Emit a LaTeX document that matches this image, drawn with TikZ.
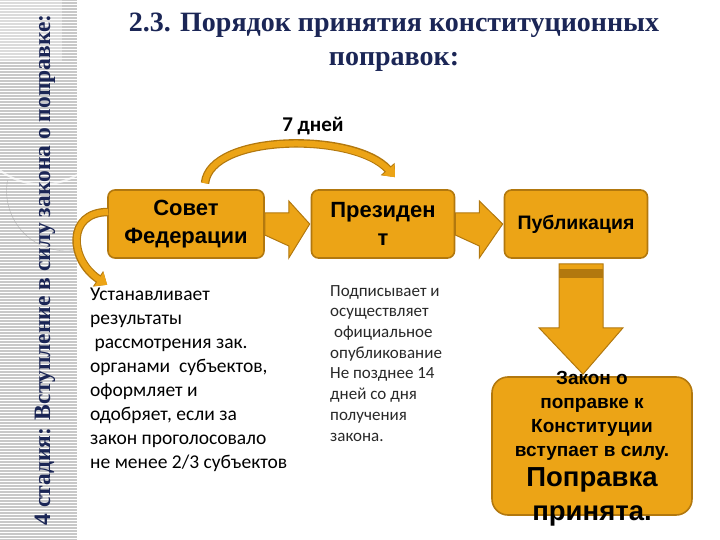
\documentclass[tikz,border=0pt]{standalone}
\usepackage{fontspec}
\setmainfont{Liberation Serif}
\newfontfamily\arialf{Liberation Sans}
\newfontfamily\calif{Carlito}
\usetikzlibrary{arrows.meta,calc}
\definecolor{boxfill}{RGB}{236,164,22}
\definecolor{boxedge}{RGB}{178,120,14}
\definecolor{navy}{RGB}{27,38,86}
\definecolor{stripgray}{RGB}{200,200,200}
\definecolor{bodytext}{RGB}{40,40,40}
\tikzset{
  x=1pt,y=-1pt,
  orbox/.style={draw=boxedge,line width=1.6pt,fill=boxfill,rounded corners=7pt,
    minimum width=156pt,minimum height=68pt,align=center,inner sep=2pt,
    font=\arialf\bfseries\fontsize{22}{28}\selectfont},
  blockarrow/.style={draw=boxedge,line width=1pt,fill=boxfill},
  curvarrow/.style={draw=boxfill,line width=6pt,
    -{Triangle[length=10pt,width=16pt,fill=boxfill,color=boxfill]},
    preaction={draw=boxedge,line width=8.5pt,-{Triangle[length=11pt,width=18pt,color=boxedge]}}},
  bodytxt/.style={anchor=north west,align=left,inner sep=0pt},
}
\begin{document}
\begin{tikzpicture}
\useasboundingbox (0,0) rectangle (720,540);
% left strip
\fill[stripgray] (0,0) rectangle (77,540);
\foreach \yy in {1,4,...,540} {\draw[white,line width=0.9pt] (0,\yy) -- (77,\yy);}
\fill[white,opacity=0.35] (0,0) rectangle (62,62);
\draw[white,line width=2pt,opacity=0.7] (77,175) arc[start angle=60,end angle=200,radius=70];
\draw[gray!70,line width=0.6pt,opacity=0.6] (77,250) arc[start angle=80,end angle=190,radius=60];
\node[rotate=90,text=navy,font=\bfseries\fontsize{23.5}{26}\selectfont] (stage) at (45,270)
  {4 стадия: Вступление в силу закона о поправке:};
% title
\node[text=navy,align=center,font=\bfseries\fontsize{28}{34}\selectfont] (title) at (394,42)
  {2.3. Порядок принятия конституционных\\поправок:};
% boxes
\node[orbox] (sf) at (186,224) {Совет\\Федерации};
\node[orbox,minimum width=143pt] (pr) at (383,224) {Президен\\т};
\node[orbox,minimum width=143pt,font=\arialf\bfseries\fontsize{19.5}{24}\selectfont] (pub) at (576,224) {Публикация};
\node[draw=boxedge,line width=1.6pt,fill=boxfill,rounded corners=16pt,
  minimum width=200pt,minimum height=138pt] (law) at (592,446) {};
\node[align=center,inner sep=0pt,font=\arialf\bfseries\fontsize{19}{24}\selectfont] (lawtxt) at (592,416)
  {Закон о\\поправке к\\Конституции\\вступает в силу.};
\node[align=center,inner sep=0pt,font=\arialf\bfseries\fontsize{27.5}{34}\selectfont] (lawtxt2) at (592,497)
  {Поправка\\принята.};
% block arrows
\draw[blockarrow] ($(sf.east)+(0,-11)$) -- ++(24,0) -- ++(0,-12) -- ($(pr.west)+(-1,0)$)
  -- ($(sf.east)+(24,34)$) -- ++(0,-12) -- ($(sf.east)+(0,11)$) -- cycle;
\draw[blockarrow] ($(pr.east)+(0,-11)$) -- ++(24,0) -- ++(0,-12) -- ($(pub.west)+(-1,0)$)
  -- ($(pr.east)+(24,34)$) -- ++(0,-12) -- ($(pr.east)+(0,11)$) -- cycle;
\coordinate (dtop) at ($(pub.south)+(5,5)$);
\draw[blockarrow] ($(dtop)+(-22,0)$) -- ($(dtop)+(22,0)$) -- ($(dtop)+(22,64)$) -- ($(dtop)+(42,64)$)
  -- ($(law.north)+(-9,-2)$) -- ($(dtop)+(-42,64)$) -- ($(dtop)+(-22,64)$) -- cycle;
\fill[boxedge] ($(dtop)+(-22,5)$) rectangle ($(dtop)+(22,14)$);
% curved arrows
\coordinate (c1) at ($(sf.north)+(19,-6)$);
\coordinate (c2) at ($(pr.north)+(12,-12)$);
\draw[curvarrow] (c1) .. controls ($(c1)+(5,-50)$) and ($(c2)+(-40,-45)$) .. (c2);
\coordinate (c3) at ($(sf.west)+(1,-12)$);
\coordinate (c4) at ($(sf.south west)+(0,26)$);
\draw[curvarrow] (c3) .. controls ($(c3)+(-42,0)$) and ($(c4)+(-38,-25)$) .. (c4);
\node[font=\calif\bfseries\fontsize{21}{24}\selectfont] (days) at (313,126) {7 дней};
% body texts
\node[bodytxt,font=\calif\fontsize{19.5}{24}\selectfont] (sftxt) at (90,288)
  {Устанавливает\\результаты\\\ рассмотрения зак.\\органами\ \ субъектов,\\оформляет и\\одобряет, если за\\закон проголосовало\\не менее 2/3 субъектов};
\node[bodytxt,text=bodytext,font=\calif\fontsize{17}{20.7}\selectfont] (prtxt) at (330,285)
  {Подписывает и\\осуществляет\\\ официальное\\опубликование\\Не позднее 14\\дней со дня\\получения\\закона.};
\end{tikzpicture}
\end{document}
